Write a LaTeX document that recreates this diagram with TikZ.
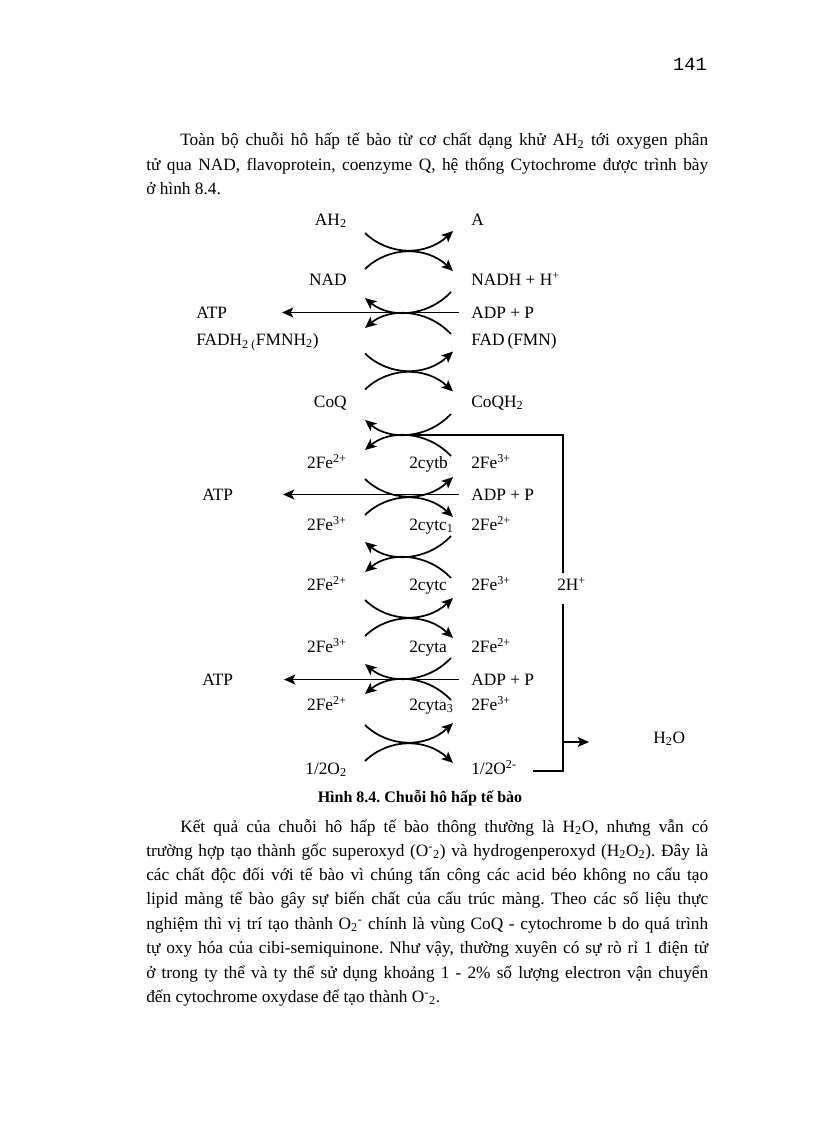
\documentclass[tikz,border=0pt]{standalone}
\usepackage{fontspec}
\setmainfont{Liberation Serif}
\newfontfamily\pagemono{Liberation Mono}
\usetikzlibrary{arrows.meta}
\frenchspacing
\newcommand{\bodysize}{\fontsize{13}{15}\selectfont}
\tikzset{
  lab/.style={inner sep=0pt, text height=8.6pt, text depth=0pt, font=\bodysize},
  redox/.style={line width=1.3pt, -{Stealth[length=8.5pt,width=7.5pt,inset=2pt]}},
  hline/.style={line width=1.1pt},
  harrow/.style={hline, -{Stealth[length=8.5pt,width=7.5pt,inset=2pt]}},
  bodyline/.style={inner sep=0pt, anchor=base west, font=\bodysize},
  rpair/.pic={
    \draw[redox] (-39,-18) .. controls (-15,5) and (22,5) .. (49,-20);
    \draw[redox] (-39,18) .. controls (-15,-5) and (22,-5) .. (49,20);
  },
  lpair/.pic={
    \draw[redox] (47,-21) .. controls (22,5) and (-15,5) .. (-39,-15);
    \draw[redox] (47,21) .. controls (22,-5) and (-15,-5) .. (-39,15);
  }
}
\begin{document}
\begin{tikzpicture}[x=0.75pt,y=-0.75pt]
\fill[white] (0,0) rectangle (816,1123);
\useasboundingbox (0,0) rectangle (816,1123);

% page number
\node[inner sep=0pt, anchor=base east, font=\pagemono\fontsize{14}{16}\selectfont] (pnum) at (707,71) {141};

% paragraph 1
\node[bodyline] (p1a) at (180,146) {\makebox[396pt][s]{Toàn bộ chuỗi hô hấp tế bào từ cơ chất dạng khử AH\textsubscript{2} tới oxygen phân}};
\node[bodyline] (p1b) at (146,171) {\makebox[421.5pt][s]{tử qua NAD, flavoprotein, coenzyme Q, hệ thống Cytochrome được trình bày}};
\node[bodyline] (p1c) at (146,195) {ở hình 8.4.};

% left column
\node[lab, anchor=east] (ah2) at (347,219.5) {AH\textsubscript{2}};
\node[lab, anchor=east] (nad) at (347,279.5) {NAD};
\node[lab, anchor=east] (coq) at (347,401.5) {CoQ};
\node[lab, anchor=east] (lfe1) at (347,462.5) {2Fe\textsuperscript{2+}};
\node[lab, anchor=east] (lfe2) at (347,524.5) {2Fe\textsuperscript{3+}};
\node[lab, anchor=east] (lfe3) at (347,584.5) {2Fe\textsuperscript{2+}};
\node[lab, anchor=east] (lfe4) at (347,646.5) {2Fe\textsuperscript{3+}};
\node[lab, anchor=east] (lfe5) at (347,704.5) {2Fe\textsuperscript{2+}};
\node[lab, anchor=east] (lo2) at (347,768.5) {1/2O\textsubscript{2}};

% right column
\node[lab, anchor=west] (a) at (471,219.5) {A};
\node[lab, anchor=west] (nadh) at (471,279.5) {NADH + H\textsuperscript{+}};
\node[lab, anchor=west] (adp1) at (471,312.5) {ADP + P};
\node[lab, anchor=west] (fad) at (471,339.5) {FAD\,(FMN)};
\node[lab, anchor=west] (coqh) at (471,401.5) {CoQH\textsubscript{2}};
\node[lab, anchor=west] (rfe1) at (471,462.5) {2Fe\textsuperscript{3+}};
\node[lab, anchor=west] (adp2) at (471,494.5) {ADP + P};
\node[lab, anchor=west] (rfe2) at (471,524.5) {2Fe\textsuperscript{2+}};
\node[lab, anchor=west] (rfe3) at (471,584.5) {2Fe\textsuperscript{3+}};
\node[lab, anchor=west] (rfe4) at (471,646.5) {2Fe\textsuperscript{2+}};
\node[lab, anchor=west] (adp3) at (471,679.5) {ADP + P};
\node[lab, anchor=west] (rfe5) at (471,704.5) {2Fe\textsuperscript{3+}};
\node[lab, anchor=west] (ro2) at (471,768.5) {1/2O\textsuperscript{2-}};

% cytochromes
\node[lab, anchor=west] (cytb) at (409,462.5) {2cytb};
\node[lab, anchor=west] (cytc1) at (409,524.5) {2cytc\textsubscript{1}};
\node[lab, anchor=west] (cytc) at (409,584.5) {2cytc};
\node[lab, anchor=west] (cyta) at (409,646.5) {2cyta};
\node[lab, anchor=west] (cyta3) at (409,704.5) {2cyta\textsubscript{3}};

% ATP and FADH2
\node[lab, anchor=west] (atp1) at (196,312.5) {ATP};
\node[lab, anchor=west] (fadh) at (196,339.5) {FADH\textsubscript{2 (}FMNH\textsubscript{2})};
\node[lab, anchor=west] (atp2) at (202,494.5) {ATP};
\node[lab, anchor=west] (atp3) at (202,679.5) {ATP};

% H2O, 2H+
\node[lab, anchor=west] (h2o) at (653,737.5) {H\textsubscript{2}O};
\node[lab, anchor=west] (hplus) at (557,584.5) {2H\textsuperscript{+}};

% redox arc pairs
\pic at (404,251) {rpair};
\pic at (404,313) {lpair};
\pic at (404,371.5) {rpair};
\pic at (404,435) {lpair};
\pic at (404,497) {rpair};
\pic at (404,557) {lpair};
\pic at (404,618) {rpair};
\pic at (404,679) {lpair};
\pic at (404,743) {rpair};

% ATP lines
\coordinate (t1) at (282,312.5);
\coordinate (t2) at (283,494.5);
\coordinate (t3) at (284,679.5);
\draw[harrow] ([xshift=-9pt]adp1.west) -- (t1);
\draw[harrow] ([xshift=-9pt]adp2.west) -- (t2);
\draw[harrow] ([xshift=-9pt]adp3.west) -- (t3);

% proton bracket
\coordinate (q1) at (412,435);
\coordinate (c1) at (563,435);
\coordinate (c2) at (563,771);
\coordinate (oend) at (533,771);
\coordinate (hj) at (563,742);
\coordinate (ht) at (589,742);
\coordinate (hu) at ([yshift=4pt]hplus.north);
\coordinate (hd) at ([yshift=-10pt]hplus.south);
\draw[hline] (q1) -- (c1) -- (c1 |- hu);
\draw[hline] (c1 |- hd) -- (c2) -- (oend);
\draw[harrow] (hj) -- (ht);

% caption
\node[inner sep=0pt, anchor=base, font=\bfseries\fontsize{12}{14}\selectfont] (cap) at (420,802) {Hình 8.4. Chuỗi hô hấp tế bào};

% paragraph 2
\node[bodyline] (p2a) at (180,832) {\makebox[396pt][s]{Kết quả của chuỗi hô hấp tế bào thông thường là H\textsubscript{2}O, nhưng vẫn có}};
\node[bodyline] (p2b) at (146,856) {\makebox[421.5pt][s]{trường hợp tạo thành gốc superoxyd (O\textsuperscript{-}\textsubscript{2}) và hydrogenperoxyd (H\textsubscript{2}O\textsubscript{2}). Đây là}};
\node[bodyline] (p2c) at (146,880) {\makebox[421.5pt][s]{các chất độc đối với tế bào vì chúng tấn công các acid béo không no cấu tạo}};
\node[bodyline] (p2d) at (146,904) {\makebox[421.5pt][s]{lipid màng tế bào gây sự biến chất của cấu trúc màng. Theo các số liệu thực}};
\node[bodyline] (p2e) at (146,929) {\makebox[421.5pt][s]{nghiệm thì vị trí tạo thành O\textsubscript{2}\textsuperscript{-} chính là vùng CoQ - cytochrome b do quá trình}};
\node[bodyline] (p2f) at (146,953) {\makebox[421.5pt][s]{tự oxy hóa của cibi-semiquinone. Như vậy, thường xuyên có sự rò rỉ 1 điện tử}};
\node[bodyline] (p2g) at (146,978) {\makebox[421.5pt][s]{ở trong ty thể và ty thể sử dụng khoảng 1 - 2\% số lượng electron vận chuyển}};
\node[bodyline] (p2h) at (146,1002) {đến cytochrome oxydase để tạo thành O\textsuperscript{-}\textsubscript{2}.};
\end{tikzpicture}
\end{document}
